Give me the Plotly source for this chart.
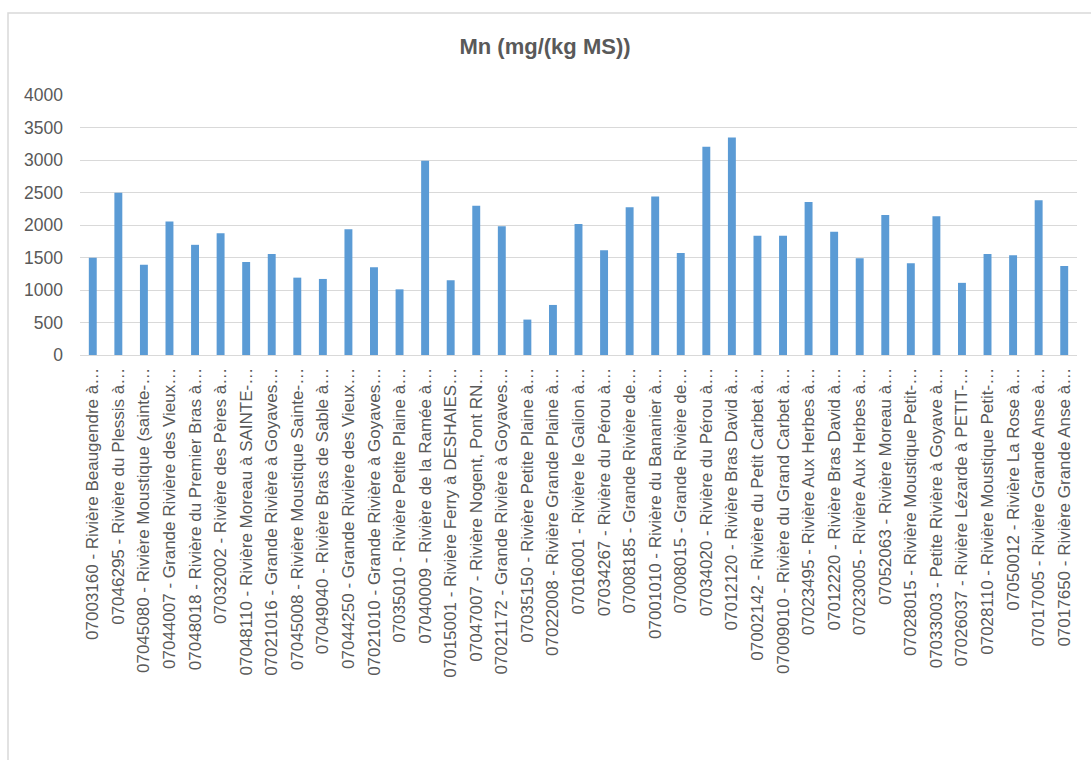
import plotly.graph_objects as go

categories = [
    "07003160 - Rivière Beaugendre à…",
    "07046295 - Rivière du Plessis à…",
    "07045080 - Rivière Moustique (sainte-…",
    "07044007 - Grande Rivière des Vieux…",
    "07048018 - Rivière du Premier Bras à…",
    "07032002 - Rivière des Pères à…",
    "07048110 - Rivière Moreau à SAINTE-…",
    "07021016 - Grande Rivière à Goyaves…",
    "07045008 - Rivière Moustique Sainte-…",
    "07049040 - Rivière Bras de Sable à…",
    "07044250 - Grande Rivière des Vieux…",
    "07021010 - Grande Rivière à Goyaves…",
    "07035010 - Rivière Petite Plaine à…",
    "07040009 - Rivière de la Ramée à…",
    "07015001 - Rivière Ferry à DESHAIES…",
    "07047007 - Rivière Nogent, Pont RN…",
    "07021172 - Grande Rivière à Goyaves…",
    "07035150 - Rivière Petite Plaine à…",
    "07022008 - Rivière Grande Plaine à…",
    "07016001 - Rivière le Galion à…",
    "07034267 - Rivière du Pérou à…",
    "07008185 - Grande Rivière de…",
    "07001010 - Rivière du Bananier à…",
    "07008015 - Grande Rivière de…",
    "07034020 - Rivière du Pérou à…",
    "07012120 - Rivière Bras David à…",
    "07002142 - Rivière du Petit Carbet à…",
    "07009010 - Rivière du Grand Carbet à…",
    "07023495 - Rivière Aux Herbes à…",
    "07012220 - Rivière Bras David à…",
    "07023005 - Rivière Aux Herbes à…",
    "07052063 - Rivière Moreau à…",
    "07028015 - Rivière Moustique Petit-…",
    "07033003 - Petite Rivière à Goyave à…",
    "07026037 - Rivière Lézarde à PETIT-…",
    "07028110 - Rivière Moustique Petit-…",
    "07050012 - Rivière La Rose à…",
    "07017005 - Rivière Grande Anse à…",
    "07017650 - Rivière Grande Anse à…",
]

mn_values = [
    1495, 2495, 1390, 2055, 1695, 1875, 1430, 1555, 1190, 1170,
    1935, 1350, 1010, 2990, 1150, 2295, 1980, 545, 770, 2015,
    1610, 2275, 2440, 1570, 3205, 3345, 1835, 1835, 2355, 1895,
    1490, 2155, 1410, 2135, 1110, 1555, 1535, 2380, 1370,
]

y_ticks = [0, 500, 1000, 1500, 2000, 2500, 3000, 3500, 4000]

W, H = 1091, 760
ml, mr, mt, mb = 80, 14, 95, 405
pw = W - ml - mr
ph = H - mt - mb

fig = go.Figure()
fig.add_trace(go.Bar(
    x=categories,
    y=mn_values,
    marker=dict(color="#5b9bd5", line=dict(width=0)),
    width=0.31,
))

text_color = "#595959"
font_family = "Liberation Sans, Arial, sans-serif"

# outer chart border
bx0 = (8 - ml) / pw
bx1 = (W + 5 - ml) / pw
by1 = 1 + (mt - 13) / ph
by0 = -(mb + 5) / ph
fig.add_shape(type="rect", xref="paper", yref="paper",
              x0=bx0, x1=bx1, y0=by0, y1=by1,
              line=dict(color="#d9d9d9", width=1.5), fillcolor="rgba(0,0,0,0)",
              layer="below")

fig.update_layout(
    width=W, height=H,
    margin=dict(l=ml, r=mr, t=mt, b=mb, autoexpand=False),
    paper_bgcolor="white",
    plot_bgcolor="white",
    showlegend=False,
    title=dict(
        text="<b>Mn (mg/(kg MS))</b>",
        x=(545 - ml) / pw, xref="paper", xanchor="center",
        y=1 - 46 / H, yref="container", yanchor="middle",
        font=dict(family=font_family, size=22, color=text_color),
    ),
    xaxis=dict(
        type="category",
        tickangle=-90,
        tickfont=dict(family=font_family, size=17, color=text_color),
        showgrid=False,
        showline=True, linecolor="#d9d9d9", linewidth=1,
        ticks="", ticklabelstandoff=5,
        automargin=False,
        range=[-0.5, len(categories) - 0.5],
    ),
    yaxis=dict(
        range=[0, 4000],
        tickvals=y_ticks,
        ticktext=[str(v) for v in y_ticks],
        tickfont=dict(family=font_family, size=17.5, color=text_color),
        showgrid=True, gridcolor="#d9d9d9", gridwidth=1,
        zeroline=False, showline=False,
        ticks="", ticklabelstandoff=16,
        automargin=False,
    ),
)

fig.write_html("out.html")
